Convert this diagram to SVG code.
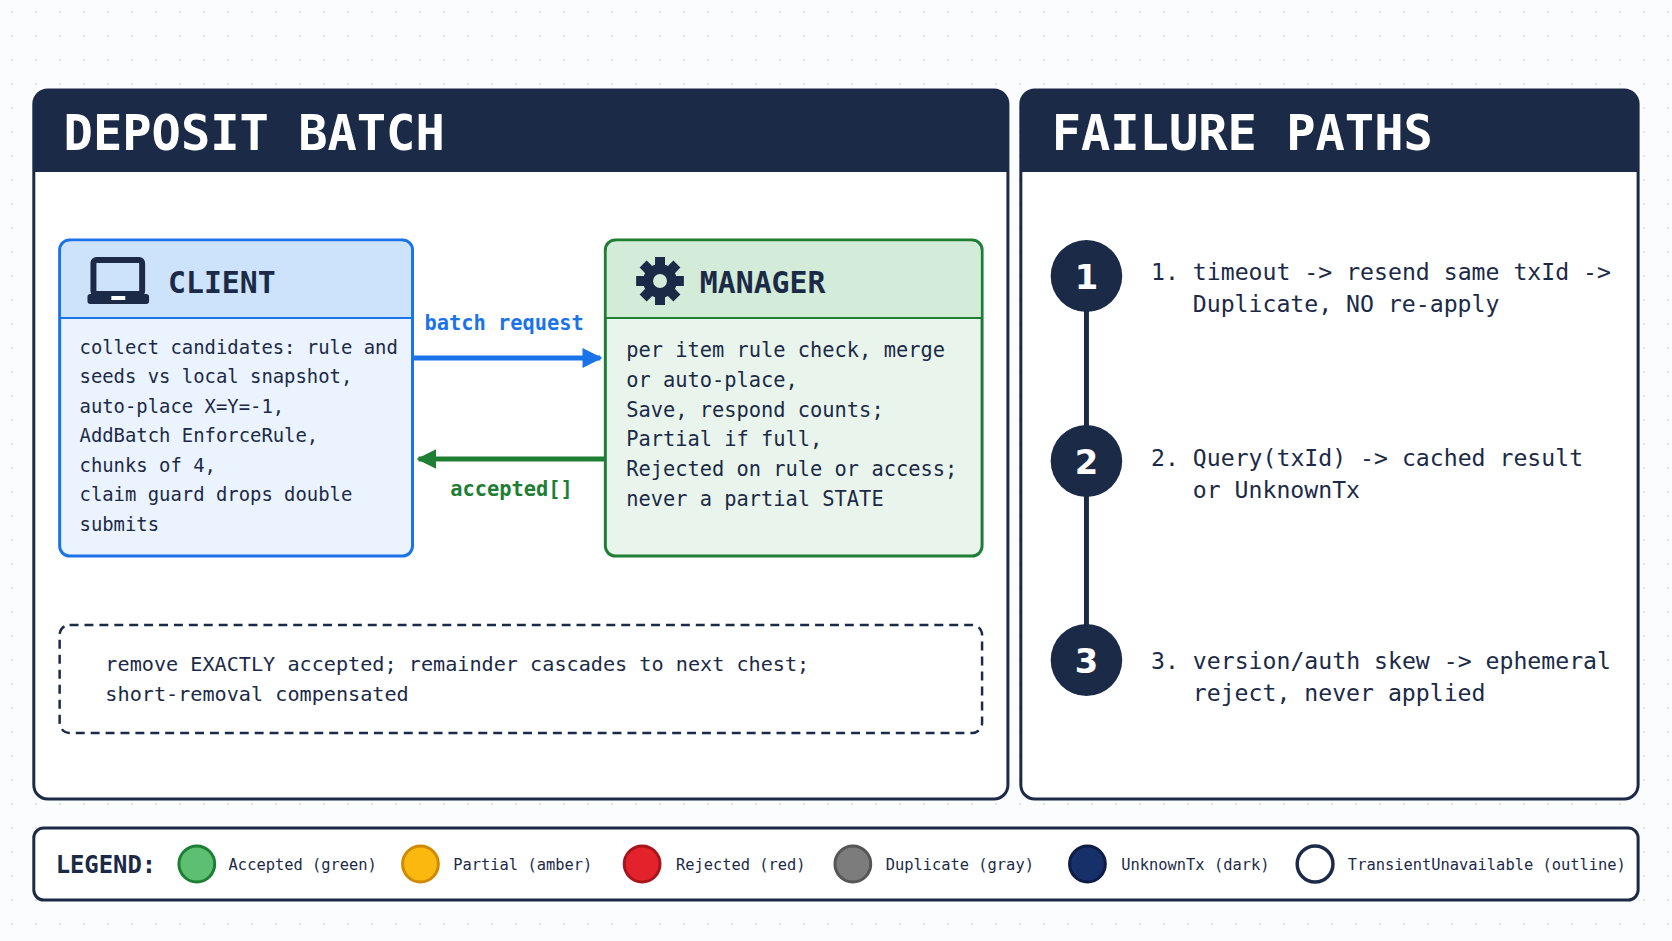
<svg xmlns="http://www.w3.org/2000/svg" width="1672" height="941" viewBox="0 0 1672 941">
<defs>
<pattern id="dots" width="24" height="24" patternUnits="userSpaceOnUse"><circle cx="12" cy="12" r="1" fill="#d5dbe3"/></pattern>
<marker id="ab" viewBox="0 0 10 10" refX="9" refY="5" markerWidth="4" markerHeight="4" orient="auto"><path d="M0,0L10,5L0,10z" fill="#1a73e8"/></marker>
<marker id="ag" viewBox="0 0 10 10" refX="9" refY="5" markerWidth="4" markerHeight="4" orient="auto"><path d="M0,0L10,5L0,10z" fill="#1e7e34"/></marker>
<style>
.m{font-family:"DejaVu Sans Mono","Liberation Mono",monospace}
.t{font-size:49px;font-weight:bold;fill:#fff}
.h{font-size:30px;font-weight:bold;fill:#1b2a47}
.b{fill:#1b2a47}
.panel{fill:#fff;stroke:#1b2a47;stroke-width:3}
.num{font-size:34px;font-weight:bold;fill:#fff;text-anchor:middle;font-family:"DejaVu Sans","Liberation Sans",sans-serif}
.lg{font-size:15.5px;fill:#1b2a47}
</style>
</defs>
<rect width="1672" height="941" fill="#fbfcfd"/>
<rect width="1672" height="941" fill="url(#dots)"/>
<g transform="scale(0.994,1)">
<g id="deposit-panel">
<rect class="panel" x="34" y="90" width="980" height="709" rx="14"/>
<path d="M34,104a14,14 0 0 1 14,-14h952a14,14 0 0 1 14,14v68h-980z" fill="#1b2a47"/>
<text class="m t" x="64" y="150">DEPOSIT BATCH</text>
</g>

<g id="failure-panel">
<rect class="panel" x="1027" y="90" width="621" height="709" rx="14"/>
<path d="M1027,104a14,14 0 0 1 14,-14h593a14,14 0 0 1 14,14v68h-621z" fill="#1b2a47"/>
<text class="m t" x="1058" y="150">FAILURE PATHS</text>
</g>

<g id="client">
<rect x="60" y="240" width="355" height="316" rx="10" fill="#eaf3fe" stroke="#1a73e8" stroke-width="3"/>
<path d="M61.5,318v-66a10.5,10.5 0 0 1 10.5,-10.5h331a10.5,10.5 0 0 1 10.5,10.5v66z" fill="#cde2fb"/>
<line x1="60" y1="318" x2="415" y2="318" stroke="#1a73e8" stroke-width="2"/>
<rect x="94" y="260" width="49" height="34" rx="3" fill="none" stroke="#1b2a47" stroke-width="6"/>
<rect x="88" y="294" width="62" height="10" rx="3" fill="#1b2a47"/>
<rect x="112" y="296" width="14" height="4" fill="#fff"/>
<text class="m h" x="169" y="293">CLIENT</text>
<g class="m b" font-size="19">
<text x="80" y="354">collect candidates: rule and</text>
<text x="80" y="383">seeds vs local snapshot,</text>
<text x="80" y="413">auto-place X=Y=-1,</text>
<text x="80" y="442">AddBatch EnforceRule,</text>
<text x="80" y="472">chunks of 4,</text>
<text x="80" y="501">claim guard drops double</text>
<text x="80" y="531">submits</text>
</g>
</g>

<g id="manager">
<rect x="609" y="240" width="379" height="316" rx="10" fill="#e9f5ec" stroke="#1e7e34" stroke-width="3"/>
<path d="M610.5,318v-66a10.5,10.5 0 0 1 10.5,-10.5h355a10.5,10.5 0 0 1 10.5,10.5v66z" fill="#d3ebd9"/>
<line x1="609" y1="318" x2="988" y2="318" stroke="#1e7e34" stroke-width="2"/>
<g transform="translate(664,281)" fill="#1b2a47">
<circle r="17"/>
<g><rect x="-5" y="-24" width="10" height="10"/><rect x="-5" y="14" width="10" height="10"/><rect x="-24" y="-5" width="10" height="10"/><rect x="14" y="-5" width="10" height="10"/></g>
<g transform="rotate(45)"><rect x="-5" y="-24" width="10" height="10"/><rect x="-5" y="14" width="10" height="10"/><rect x="-24" y="-5" width="10" height="10"/><rect x="14" y="-5" width="10" height="10"/></g>
<circle r="7" fill="#d3ebd9"/>
</g>
<text class="m h" x="704" y="293">MANAGER</text>
<g class="m b" font-size="20.5">
<text x="630" y="357">per item rule check, merge</text>
<text x="630" y="387">or auto-place,</text>
<text x="630" y="417">Save, respond counts;</text>
<text x="630" y="446">Partial if full,</text>
<text x="630" y="476">Rejected on rule or access;</text>
<text x="630" y="506">never a partial STATE</text>
</g>
</g>

<g id="connectors">
<line x1="416" y1="358" x2="604" y2="358" stroke="#1a73e8" stroke-width="5" marker-end="url(#ab)"/>
<text class="m" x="427" y="330" font-size="20.5" font-weight="bold" fill="#1a73e8">batch request</text>
<line x1="609" y1="459" x2="421" y2="459" stroke="#1e7e34" stroke-width="5" marker-end="url(#ag)"/>
<text class="m" x="453" y="496" font-size="20.5" font-weight="bold" fill="#1e7e34">accepted[]</text>
<line x1="1093" y1="276" x2="1093" y2="660" stroke="#1b2a47" stroke-width="5"/>
</g>

<g id="note">
<rect x="60" y="625" width="928" height="108" rx="10" fill="#fff" stroke="#1b2a47" stroke-width="2.5" stroke-dasharray="9 6"/>
<g class="m b" font-size="20.3">
<text x="106" y="671">remove EXACTLY accepted; remainder cascades to next chest;</text>
<text x="106" y="701">short-removal compensated</text>
</g>
</g>

<g id="step1">
<circle cx="1093" cy="276" r="36" fill="#1b2a47"/>
<text class="num" x="1093" y="289">1</text>
<text class="m b" font-size="23.3" x="1158" y="280">1. timeout -&gt; resend same txId -&gt;</text>
<text class="m b" font-size="23.3" x="1200" y="312">Duplicate, NO re-apply</text>
</g>
<g id="step2">
<circle cx="1093" cy="461" r="36" fill="#1b2a47"/>
<text class="num" x="1093" y="474">2</text>
<text class="m b" font-size="23.3" x="1158" y="466">2. Query(txId) -&gt; cached result</text>
<text class="m b" font-size="23.3" x="1200" y="498">or UnknownTx</text>
</g>
<g id="step3">
<circle cx="1093" cy="660" r="36" fill="#1b2a47"/>
<text class="num" x="1093" y="673">3</text>
<text class="m b" font-size="23.3" x="1158" y="669">3. version/auth skew -&gt; ephemeral</text>
<text class="m b" font-size="23.3" x="1200" y="701">reject, never applied</text>
</g>

<g id="legend">
<rect x="34" y="828" width="1614" height="72" rx="10" fill="#fff" stroke="#1b2a47" stroke-width="3"/>
<text class="m" x="56" y="873" font-size="24" font-weight="bold" fill="#1b2a47">LEGEND:</text>
<circle cx="198" cy="864" r="18" fill="#5cbf72" stroke="#1e7e34" stroke-width="3"/>
<text class="m lg" x="230" y="870">Accepted (green)</text>
<circle cx="423" cy="864" r="18" fill="#fbb80f" stroke="#d08a00" stroke-width="3"/>
<text class="m lg" x="456" y="870">Partial (amber)</text>
<circle cx="646" cy="864" r="18" fill="#e3222c" stroke="#a8141c" stroke-width="3"/>
<text class="m lg" x="680" y="870">Rejected (red)</text>
<circle cx="858" cy="864" r="18" fill="#7c7c7c" stroke="#555" stroke-width="3"/>
<text class="m lg" x="891" y="870">Duplicate (gray)</text>
<circle cx="1094" cy="864" r="18" fill="#17306a" stroke="#0e1d44" stroke-width="3"/>
<text class="m lg" x="1128" y="870">UnknownTx (dark)</text>
<circle cx="1323" cy="864" r="18" fill="#fff" stroke="#1b2a47" stroke-width="3.5"/>
<text class="m lg" x="1356" y="870">TransientUnavailable (outline)</text>
</g>
</g>
</svg>
